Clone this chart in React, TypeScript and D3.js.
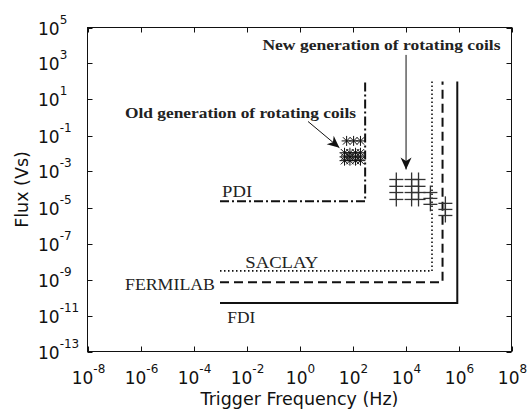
import React from 'react';
import * as d3 from 'd3';

// ---- data ----
const FREQ_TICK_EXP = [-8, -6, -4, -2, 0, 2, 4, 6, 8];
const FLUX_TICK_EXP = [-13, -11, -9, -7, -5, -3, -1, 1, 3, 5];

const FDI_FREQ = [1e-3, 9e5, 9e5];
const FDI_FLUX = [5e-11, 5e-11, 1e2];
const FERMILAB_FREQ = [1e-3, 2.5e5, 2.5e5];
const FERMILAB_FLUX = [7e-10, 7e-10, 1e2];
const SACLAY_FREQ = [1e-3, 1e5, 1e5];
const SACLAY_FLUX = [3e-9, 3e-9, 1e2];
const PDI_FREQ = [1e-3, 300, 300];
const PDI_FLUX = [2.2e-5, 2.2e-5, 1e2];

// old generation of rotating coils (asterisks)
const OLD_FREQ = [60, 110, 200, 50, 80, 130, 200, 50, 80, 130, 200, 50, 80, 130, 200];
const OLD_FLUX = [0.05, 0.05, 0.05, 0.011, 0.011, 0.011, 0.011, 0.0065, 0.0065, 0.0065, 0.0065, 0.004, 0.004, 0.004, 0.004];

// new generation of rotating coils (plus markers)
const NEW_FREQ = [4.5e3, 4.5e3, 4.5e3, 4.5e3, 1.7e4, 1.7e4, 1.7e4, 1.7e4, 3.1e4, 3.1e4, 3.1e4, 3.1e4, 8.7e4, 8.7e4, 8.7e4, 3.2e5, 3.2e5, 3.2e5];
const NEW_FLUX = [3.6e-4, 1.5e-4, 6.8e-5, 2.8e-5, 3.6e-4, 1.5e-4, 6.8e-5, 2.8e-5, 3.6e-4, 1.5e-4, 6.8e-5, 2.8e-5, 6.8e-5, 3.2e-5, 1.5e-5, 1.7e-5, 7.8e-6, 3.6e-6];

// labels: text, anchor freq, anchor flux, bold, width
const LABEL_TEXT = ['New generation of rotating coils', 'Old generation of rotating coils', 'PDI', 'SACLAY', 'FERMILAB', 'FDI'];
const LABEL_FREQ = [0.04, 2.6e-7, 1.2e-3, 9e-3, 2.6e-7, 1.9e-3];
const LABEL_FLUX = [5.3e3, 1, 3.6e-5, 4.6e-9, 2.5e-10, 4e-12];
const LABEL_BOLD = [true, true, false, false, false, false];
const LABEL_LEN = [238, 231, 30, 73, 90, 28];

// arrows: from (freq, flux) to (freq, flux)
const ARROW_FROM_FREQ = [1.05e4, 2.1e2 / 100];
const ARROW_FROM_FLUX = [3e3, 0.6];
const ARROW_TO_FREQ = [1.05e4, 32];
const ARROW_TO_FLUX = [1.3e-3, 0.021];

const W = 528;
const H = 410;

export default function App() {
  const x = d3.scaleLog().domain([1e-8, 1e8]).range([87.5, 511.5]);
  const y = d3.scaleLog().domain([1e-13, 1e5]).range([351.5, 27.5]);
  const line = d3
    .line<[number, number]>()
    .x((d) => x(d[0]))
    .y((d) => y(d[1]));
  const zip = (a: number[], b: number[]) => a.map((v, i) => [v, b[i]] as [number, number]);

  const x0 = x.range()[0];
  const x1 = x.range()[1];
  const y0 = y.range()[1];
  const y1 = y.range()[0];
  const tickLen = 5;
  const sans = 'DejaVu Sans, Arial, sans-serif';
  const serif = 'Liberation Serif, Times New Roman, serif';

  const series = [
    { f: FDI_FREQ, v: FDI_FLUX, dash: undefined, w: 2 },
    { f: FERMILAB_FREQ, v: FERMILAB_FLUX, dash: '9,5', w: 2 },
    { f: SACLAY_FREQ, v: SACLAY_FLUX, dash: '1.5,2.5', w: 1.6 },
    { f: PDI_FREQ, v: PDI_FLUX, dash: '9,3,2,3', w: 2 },
  ];

  const arrowHead = (fx: number, fy: number, tx: number, ty: number) => {
    const ang = Math.atan2(ty - fy, tx - fx);
    const L = 12;
    const Wd = 5.5;
    const pts = [
      [0, 0],
      [-L, -Wd],
      [-L * 0.7, 0],
      [-L, Wd],
    ].map(([px, py]) => [tx + px * Math.cos(ang) - py * Math.sin(ang), ty + px * Math.sin(ang) + py * Math.cos(ang)]);
    return 'M' + pts.map((p) => p.join(',')).join('L') + 'Z';
  };

  return (
    <svg width={W} height={H} style={{ position: 'absolute', left: 0, top: 0, background: '#fff' }}>
      <rect x={0} y={0} width={W} height={H} fill="#fff" />
      {/* frame */}
      <rect x={x0} y={y0} width={x1 - x0} height={y1 - y0} fill="none" stroke="#111" strokeWidth={1} />
      {/* ticks */}
      {FREQ_TICK_EXP.map((e) => {
        const px = Math.round(x(Math.pow(10, e))) + 0.5;
        return (
          <g key={'xt' + e}>
            <line x1={px} x2={px} y1={y1} y2={y1 - tickLen} stroke="#111" />
            <line x1={px} x2={px} y1={y0} y2={y0 + tickLen} stroke="#111" />
            <text x={px} y={384} textAnchor="middle" fontFamily={sans} fontSize={17} fill="#111">
              10
              <tspan dy={-11} fontSize={12}>
                {String(e).replace('-', '-')}
              </tspan>
            </text>
          </g>
        );
      })}
      {FLUX_TICK_EXP.map((e) => {
        const py = Math.round(y(Math.pow(10, e))) + 0.5;
        return (
          <g key={'yt' + e}>
            <line x1={x0} x2={x0 + tickLen} y1={py} y2={py} stroke="#111" />
            <line x1={x1} x2={x1 - tickLen} y1={py} y2={py} stroke="#111" />
            <text x={38} y={py + 6} fontFamily={sans} fontSize={17} fill="#111">
              10
              <tspan dy={-11} fontSize={12}>
                {String(e)}
              </tspan>
            </text>
          </g>
        );
      })}
      {/* axis titles */}
      <text x={(x0 + x1) / 2} y={405} textAnchor="middle" fontFamily={sans} fontSize={17.5} fill="#111">
        Trigger Frequency (Hz)
      </text>
      <text
        transform={`translate(28,${(y0 + y1) / 2}) rotate(-90)`}
        textAnchor="middle"
        fontFamily={sans}
        fontSize={17.5}
        fill="#111"
      >
        Flux (Vs)
      </text>

      {/* limit lines */}
      {series.map((s, i) => (
        <path
          key={'s' + i}
          d={line(zip(s.f, s.v)) || ''}
          fill="none"
          stroke="#111"
          strokeWidth={s.w}
          strokeDasharray={s.dash}
        />
      ))}

      {/* old generation asterisks */}
      {OLD_FREQ.map((f, i) => {
        const cx = x(f);
        const cy = y(OLD_FLUX[i]);
        const r = 5;
        const d = 3.7;
        return (
          <g key={'o' + i} stroke="#111" strokeWidth={1}>
            <line x1={cx - r} x2={cx + r} y1={cy} y2={cy} />
            <line x1={cx} x2={cx} y1={cy - r} y2={cy + r} />
            <line x1={cx - d} x2={cx + d} y1={cy - d} y2={cy + d} />
            <line x1={cx - d} x2={cx + d} y1={cy + d} y2={cy - d} />
          </g>
        );
      })}

      {/* new generation plus markers */}
      {NEW_FREQ.map((f, i) => {
        const cx = x(f);
        const cy = y(NEW_FLUX[i]);
        const r = 7;
        return (
          <g key={'n' + i} stroke="#333" strokeWidth={1.3}>
            <line x1={cx - r} x2={cx + r} y1={cy} y2={cy} />
            <line x1={cx} x2={cx} y1={cy - r} y2={cy + r} />
          </g>
        );
      })}

      {/* arrows */}
      {ARROW_FROM_FREQ.map((f, i) => {
        const fx = x(f);
        const fy = y(ARROW_FROM_FLUX[i]);
        const tx = x(ARROW_TO_FREQ[i]);
        const ty = y(ARROW_TO_FLUX[i]);
        return (
          <g key={'a' + i}>
            <line x1={fx} y1={fy} x2={tx} y2={ty} stroke="#111" strokeWidth={1} />
            <path d={arrowHead(fx, fy, tx, ty)} fill="#111" />
          </g>
        );
      })}

      {/* labels */}
      {LABEL_TEXT.map((t, i) => (
        <text
          key={'l' + i}
          x={x(LABEL_FREQ[i])}
          y={y(LABEL_FLUX[i])}
          fontFamily={serif}
          fontWeight={LABEL_BOLD[i] ? 'bold' : 'normal'}
          fontSize={LABEL_BOLD[i] ? 15 : 16}
          textLength={LABEL_LEN[i]}
          lengthAdjust="spacingAndGlyphs"
          fill="#222"
        >
          {t}
        </text>
      ))}
    </svg>
  );
}
